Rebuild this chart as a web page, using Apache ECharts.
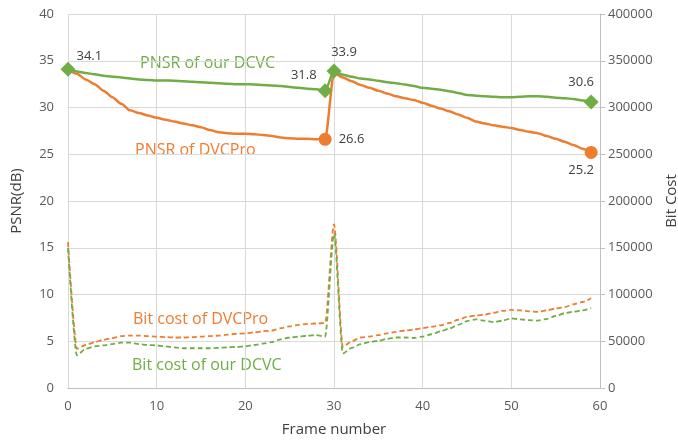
<!DOCTYPE html>
<html lang="en">
<head>
    <meta charset="UTF-8">
    <title>PSNR and bit cost</title>
    <script src="https://cdn.jsdelivr.net/npm/echarts@6/dist/echarts.min.js"></script>
    <style>
        body { margin: 0; background: #fff; }
        #chart { width: 678px; height: 443px; }
    </style>
</head>
<body>
<div id="chart"></div>
<script>
    // frame numbers 0..59
    var frames = [];
    for (var i = 0; i < 60; i++) frames.push(i);

    var psnrDcvc = [34.1, 33.85, 33.7, 33.55, 33.4, 33.3, 33.2, 33.1, 33.0, 32.95,
        32.9, 32.9, 32.85, 32.8, 32.75, 32.7, 32.65, 32.6, 32.55, 32.5,
        32.5, 32.45, 32.4, 32.35, 32.3, 32.2, 32.1, 32.0, 31.95, 31.8,
        33.9, 33.5, 33.3, 33.1, 33.0, 32.85, 32.7, 32.6, 32.45, 32.3,
        32.1, 32.0, 31.9, 31.75, 31.55, 31.35, 31.25, 31.2, 31.15, 31.1,
        31.1, 31.15, 31.2, 31.2, 31.15, 31.05, 31.0, 30.9, 30.75, 30.6];

    var psnrDvcPro = [34.1, 33.6, 33.0, 32.5, 31.8, 31.1, 30.4, 29.7, 29.4, 29.15,
        28.9, 28.7, 28.5, 28.3, 28.1, 27.9, 27.6, 27.35, 27.25, 27.2,
        27.2, 27.15, 27.05, 26.95, 26.8, 26.7, 26.65, 26.65, 26.6, 26.6,
        33.7, 33.2, 32.8, 32.4, 32.1, 31.8, 31.5, 31.2, 31.0, 30.8,
        30.5, 30.2, 29.9, 29.6, 29.25, 28.9, 28.5, 28.3, 28.1, 27.95,
        27.8, 27.6, 27.4, 27.25, 26.95, 26.65, 26.35, 26.0, 25.6, 25.2];

    var bitDvcPro = [156000, 42000, 46000, 49000, 51500, 53500, 55500, 56000, 56000, 55500,
        55000, 54500, 54000, 54000, 54500, 55000, 55500, 56000, 57000, 58000,
        58500, 59500, 60500, 61500, 64000, 66000, 67500, 68500, 69000, 69500,
        175000, 44000, 50000, 54000, 55000, 56500, 58500, 60000, 61500, 62500,
        64000, 65500, 67000, 69500, 73000, 76000, 77500, 78500, 80500, 82500,
        83500, 83000, 82000, 81500, 83000, 85000, 86500, 89500, 92000, 96000];

    var bitDcvc = [150000, 35000, 42000, 44500, 45500, 47000, 48500, 48500, 47000, 46000,
        45500, 44500, 43500, 42500, 42500, 42500, 42500, 43000, 43500, 44000,
        44500, 46000, 47500, 49000, 52000, 54000, 55000, 56000, 56500, 55000,
        165000, 37000, 43000, 47000, 49000, 50500, 52500, 54000, 54000, 53500,
        55000, 57500, 60500, 63500, 67500, 71500, 73500, 72000, 70500, 72000,
        74500, 73500, 72500, 72000, 74000, 77000, 80000, 81500, 83000, 85500];

    // frames that carry a marker + value label
    var dcvcMarked = [0, 29, 30, 59];
    var dvcProMarked = [29, 59];

    var green = '#70AD47';
    var orange = '#ED7D31';
    var txt = '#595959';

    var dcvcLabelPos = {
        0: { position: 'right', offset: [-4, -13] },
        29: { position: 'left', offset: [4, -15] },
        30: { position: 'top', offset: [10, 0] },
        59: { position: 'top', offset: [-10, -1] }
    };
    var dvcProLabelPos = {
        29: { position: 'right', offset: [2, 0] },
        59: { position: 'bottom', offset: [-10, 0] }
    };

    function buildPoints(vals, marked, symbol, size, color, labelPos) {
        return frames.map(function (f, idx) {
            if (marked.indexOf(f) < 0) return [f, vals[idx]];
            return {
                value: [f, vals[idx]],
                symbol: symbol,
                symbolSize: size,
                itemStyle: { color: color },
                label: {
                    show: true,
                    position: labelPos[f].position,
                    offset: labelPos[f].offset,
                    formatter: function (p) { return p.value[1].toFixed(1); },
                    color: '#404040',
                    fontSize: 13,
                    fontFamily: 'Open Sans'
                }
            };
        });
    }

    function plain(vals) {
        return frames.map(function (f, idx) { return [f, vals[idx]]; });
    }

    var myChart = echarts.init(document.getElementById('chart'));
    var option = {
        animation: false,
        textStyle: { fontFamily: 'Open Sans' },
        grid: { left: 68, right: 78, top: 14, bottom: 55, outerBoundsMode: 'none', containLabel: false },
        xAxis: {
            type: 'value', min: 0, max: 60, interval: 10,
            name: 'Frame number', nameLocation: 'middle', nameGap: 34,
            nameTextStyle: { color: '#404040', fontSize: 15 },
            axisLine: { show: true, lineStyle: { color: '#bfbfbf' } },
            axisTick: { show: false },
            axisLabel: { color: txt, fontSize: 13, margin: 12 },
            splitLine: { show: true, lineStyle: { color: '#d9d9d9' } }
        },
        yAxis: [{
            type: 'value', min: 0, max: 40, interval: 5,
            name: 'PSNR(dB)', nameLocation: 'middle', nameGap: 44, nameRotate: 90,
            nameTextStyle: { color: '#404040', fontSize: 15 },
            axisLine: { show: false },
            axisTick: { show: false },
            axisLabel: { color: txt, fontSize: 13, margin: 14 },
            splitLine: { show: true, lineStyle: { color: '#d9d9d9' } }
        }, {
            type: 'value', min: 0, max: 400000, interval: 50000,
            position: 'right',
            name: 'Bit Cost', nameLocation: 'middle', nameGap: 64, nameRotate: 90,
            nameTextStyle: { color: '#404040', fontSize: 15 },
            axisLine: { show: true, lineStyle: { color: '#bfbfbf' } },
            axisTick: { show: true, length: 5, lineStyle: { color: '#bfbfbf' } },
            axisLabel: { color: txt, fontSize: 13, margin: 8, formatter: function (v) { return String(v); } },
            splitLine: { show: false }
        }],
        graphic: [
            { type: 'text', left: 140, top: 55, style: { text: 'PNSR of our DCVC', fill: green, fontSize: 16, fontFamily: 'Open Sans' } },
            { type: 'text', left: 135, top: 142, style: { text: 'PNSR of DVCPro', fill: orange, fontSize: 16, fontFamily: 'Open Sans' } },
            { type: 'text', left: 133, top: 311, style: { text: 'Bit cost of DVCPro', fill: orange, fontSize: 16, fontFamily: 'Open Sans' } },
            { type: 'text', left: 132, top: 357, style: { text: 'Bit cost of our DCVC', fill: green, fontSize: 16, fontFamily: 'Open Sans' } }
        ],
        series: [{
            name: 'Bit cost of DVCPro', type: 'line', yAxisIndex: 1,
            data: plain(bitDvcPro), showSymbol: false, symbol: 'none',
            smooth: 0.25, smoothMonotone: 'x',
            lineStyle: { color: orange, width: 1.8, type: [5, 3] }
        }, {
            name: 'Bit cost of our DCVC', type: 'line', yAxisIndex: 1,
            data: plain(bitDcvc), showSymbol: false, symbol: 'none',
            smooth: 0.25, smoothMonotone: 'x',
            lineStyle: { color: green, width: 1.8, type: [5, 3] }
        }, {
            name: 'PNSR of DVCPro', type: 'line', yAxisIndex: 0,
            data: buildPoints(psnrDvcPro, dvcProMarked, 'circle', 13, orange, dvcProLabelPos),
            symbol: 'none', showSymbol: true,
            smooth: 0.25, smoothMonotone: 'x',
            lineStyle: { color: orange, width: 2.5 },
            itemStyle: { color: orange }
        }, {
            name: 'PNSR of our DCVC', type: 'line', yAxisIndex: 0,
            data: buildPoints(psnrDcvc, dcvcMarked, 'diamond', 15, green, dcvcLabelPos),
            symbol: 'none', showSymbol: true,
            smooth: 0.25, smoothMonotone: 'x',
            lineStyle: { color: green, width: 2.5 },
            itemStyle: { color: green }
        }]
    };
    myChart.setOption(option, true);
</script>
</body>
</html>
